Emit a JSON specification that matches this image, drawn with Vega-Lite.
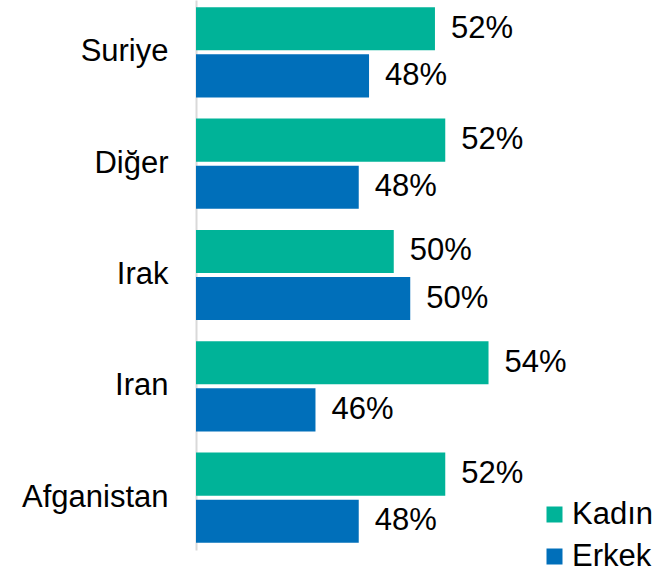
{
  "$schema": "https://vega.github.io/schema/vega-lite/v6.json",
  "width": 412,
  "height": 550,
  "autosize": {"type": "none"},
  "padding": {"left": 196, "top": 0, "right": 46, "bottom": 22},
  "background": "white",
  "config": {
    "view": {"stroke": null},
    "font": "Liberation Sans"
  },
  "data": {
    "values": [
      {"country": "Suriye", "gender": "Kadın", "value": 0.516},
      {"country": "Suriye", "gender": "Erkek", "value": 0.484},
      {"country": "Diğer", "gender": "Kadın", "value": 0.521},
      {"country": "Diğer", "gender": "Erkek", "value": 0.479},
      {"country": "Irak", "gender": "Kadın", "value": 0.496},
      {"country": "Irak", "gender": "Erkek", "value": 0.504},
      {"country": "Iran", "gender": "Kadın", "value": 0.542},
      {"country": "Iran", "gender": "Erkek", "value": 0.458},
      {"country": "Afganistan", "gender": "Kadın", "value": 0.521},
      {"country": "Afganistan", "gender": "Erkek", "value": 0.479}
    ]
  },
  "encoding": {
    "y": {
      "field": "country",
      "type": "nominal",
      "sort": ["Suriye", "Diğer", "Irak", "Iran", "Afganistan"],
      "scale": {"paddingInner": 0.19, "paddingOuter": 0.065},
      "axis": {
        "title": null,
        "domain": true,
        "domainColor": "#d9d9d9",
        "domainWidth": 2,
        "ticks": false,
        "grid": false,
        "labelPadding": 28,
        "labelFontSize": 31,
        "labelColor": "#000000",
        "labelFont": "Liberation Sans"
      }
    },
    "yOffset": {
      "field": "gender",
      "type": "nominal",
      "sort": ["Kadın", "Erkek"],
      "scale": {"paddingInner": 0.085, "paddingOuter": 0}
    }
  },
  "layer": [
    {
      "mark": {"type": "bar"},
      "encoding": {
        "x": {
          "field": "value",
          "type": "quantitative",
          "scale": {"domain": [0.4, 0.6], "zero": false, "nice": false},
          "axis": null
        },
        "x2": {"datum": 0.4},
        "color": {
          "field": "gender",
          "type": "nominal",
          "sort": ["Kadın", "Erkek"],
          "scale": {"domain": ["Kadın", "Erkek"], "range": ["#00B398", "#006FBA"]},
          "legend": {
            "title": null,
            "orient": "none",
            "legendX": 343,
            "legendY": 499,
            "padding": 0,
            "symbolType": "square",
            "symbolSize": 256,
            "symbolStrokeWidth": 0,
            "labelFontSize": 31,
            "labelFont": "Liberation Sans",
            "labelColor": "#000000",
            "labelOffset": 2,
            "rowPadding": 10
          }
        }
      }
    },
    {
      "mark": {
        "type": "text",
        "align": "left",
        "baseline": "middle",
        "dx": 16,
        "fontSize": 31,
        "font": "Liberation Sans",
        "color": "#000000"
      },
      "encoding": {
        "x": {"field": "value", "type": "quantitative"},
        "text": {"field": "value", "type": "quantitative", "format": ".0%"}
      }
    }
  ]
}
